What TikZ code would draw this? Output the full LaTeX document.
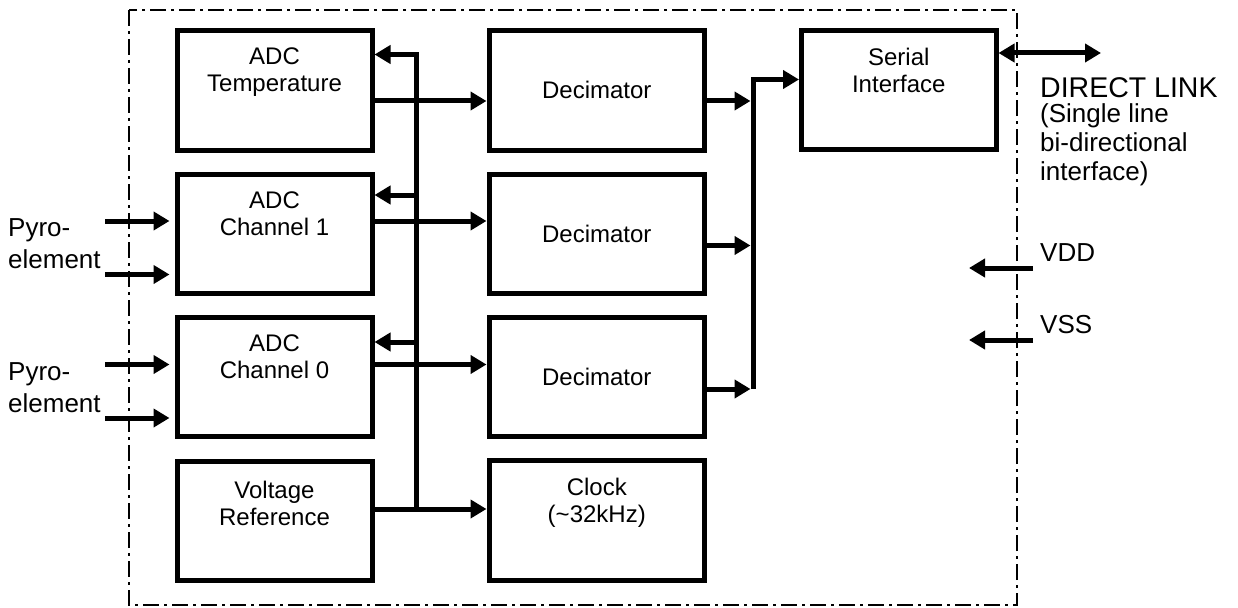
\documentclass[tikz,border=0pt]{standalone}
\usepackage{fontspec}
\setmainfont{Liberation Sans}
\usetikzlibrary{arrows.meta}
\begin{document}
\begin{tikzpicture}[x=1pt,y=-1pt,
 blk/.style={draw, line width=5pt, minimum height=119.5pt, inner sep=0pt},
 adcbox/.style={blk, minimum width=195pt},
 decbox/.style={blk, minimum width=215.5pt, font=\fontsize{24}{27}\selectfont},
 lbl/.style={inner sep=0pt, align=center, anchor=north, font=\fontsize{24}{27}\selectfont},
 side/.style={inner sep=0pt, align=left, anchor=north west, font=\fontsize{26}{32.5}\selectfont},
 arr/.style={line width=5pt, -{Triangle[length=16pt,width=18pt]}},
 biarr/.style={line width=5pt, {Triangle[length=16pt,width=18pt]}-{Triangle[length=16pt,width=18pt]}},
 bus/.style={line width=5pt},
 frame/.style={line width=2pt, dash pattern=on 16pt off 5pt on 3pt off 5pt}
]
\useasboundingbox (0,0) rectangle (1238,607);

% frame
\draw[frame] (129,10) rectangle (1017,605);

% left column
\node[adcbox] (adct) at (274.5,90.25) {};
\node[adcbox] (adc1) at (274.5,234) {};
\node[adcbox] (adc0) at (274.5,377) {};
\node[adcbox] (vref) at (274.5,520.75) {};
\node[lbl] (adct-t) at ([yshift=-20pt]adct.north) {ADC\\Temperature};
\node[lbl] (adc1-t) at ([yshift=-20pt]adc1.north) {ADC\\Channel 1};
\node[lbl] (adc0-t) at ([yshift=-20pt]adc0.north) {ADC\\Channel 0};
\node[lbl] (vref-t) at ([yshift=-22pt]vref.north) {Voltage\\Reference};

% middle column
\node[decbox] (dec1) at (596.75,90.25) {Decimator};
\node[decbox] (dec2) at (596.75,234) {Decimator};
\node[decbox] (dec3) at (596.75,377) {Decimator};
\node[blk, minimum width=215.5pt] (clock) at (596.75,520.5) {};
\node[lbl] (clock-t) at ([yshift=-20pt]clock.north) {Clock\\(\textasciitilde 32kHz)};

% serial interface
\node[blk, minimum width=194.5pt, minimum height=119pt] (ser) at (898.75,90) {};
\node[lbl] (ser-t) at ([yshift=-20pt]ser.north) {Serial\\Interface};

% reference / clock bus
\coordinate (b0) at (416.5,509);
\coordinate (b1) at (416.5,54.5);
\coordinate (b2) at (416.5,195);
\coordinate (b3) at (416.5,342);
\draw[arr] (b0) -- (b1) -- (adct.east |- b1);
\draw[arr] (b2) -- (adc1.east |- b2);
\draw[arr] (b3) -- (adc0.east |- b3);
\draw[arr] (vref.east |- b0) -- (clock.west |- b0);

% ADC -> decimator
\draw[arr] (adct.east |- 0,101) -- (dec1.west |- 0,101);
\draw[arr] (adc1.east |- 0,221) -- (dec2.west |- 0,221);
\draw[arr] (adc0.east |- 0,364.5) -- (dec3.west |- 0,364.5);

% decimator -> serial bus
\coordinate (c0) at (753,79.5);
\coordinate (c1) at (753,389);
\coordinate (cl) at (750.5,0);
\draw[arr] (c1) -- (c0) -- (ser.west |- c0);
\draw[arr] (dec1.east |- 0,101) -- (cl |- 0,101);
\draw[arr] (dec2.east |- 0,245.5) -- (cl |- 0,245.5);
\draw[arr] (dec3.east |- 0,389) -- (cl |- 0,389);

% pyro inputs
\coordinate (p1) at (105,221);
\coordinate (p2) at (105,274.5);
\coordinate (p3) at (105,364.5);
\coordinate (p4) at (105,418);
\draw[arr, shorten >=5pt] (p1) -- (p1 -| adc1.west);
\draw[arr, shorten >=5pt] (p2) -- (p2 -| adc1.west);
\draw[arr, shorten >=5pt] (p3) -- (p3 -| adc0.west);
\draw[arr, shorten >=5pt] (p4) -- (p4 -| adc0.west);
\node[side] (py1) at (8,218) {Pyro-\\element};
\node[side] (py0) at (8,362) {Pyro-\\element};

% direct link
\coordinate (dl) at (1101,53);
\draw[biarr] (ser.east |- dl) -- (dl);
\node[side, font=\fontsize{28.5}{32}\selectfont] (dl-t) at (1040,77) {DIRECT LINK};
\node[side, font=\fontsize{26}{29}\selectfont] (dl-d) at (1040,103) {(Single line\\bi-directional\\interface)};

% supplies
\coordinate (vdd) at (1033,268);
\coordinate (vddt) at (969,268);
\coordinate (vss) at (1033,340);
\coordinate (vsst) at (969,340);
\draw[arr] (vdd) -- (vddt);
\draw[arr] (vss) -- (vsst);
\node[side] (vdd-t) at (1040,243) {VDD};
\node[side] (vss-t) at (1040,315) {VSS};
\end{tikzpicture}
\end{document}
